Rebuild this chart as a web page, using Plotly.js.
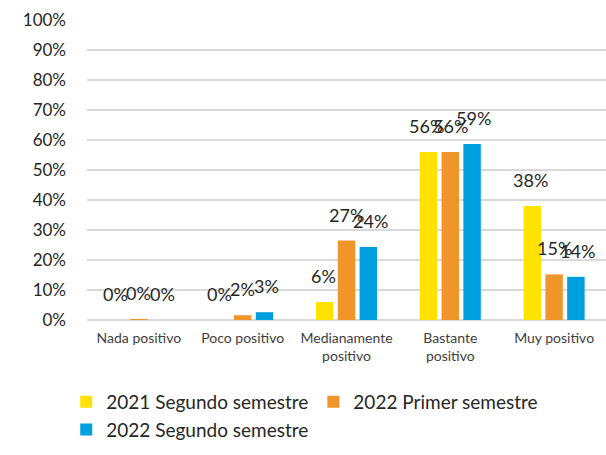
<!DOCTYPE html>
<html>
<head>
<meta charset="utf-8">
<script src="https://cdn.plot.ly/plotly-3.0.1.min.js"></script>
<style>body{margin:0;background:#fff;} #chart{width:606px;height:455px;}</style>
</head>
<body>
<div id="chart"></div>
<script>
// categories on the x axis
let categories = ['Nada positivo', 'Poco positivo', 'Medianamente<br>positivo', 'Bastante<br>positivo', 'Muy positivo'];

// percentages per period
let s2021b = [0, 0, 6, 56, 38];
let s2022a = [0.3, 1.6, 26.5, 56, 15.2];
let s2022b = [0, 2.6, 24.3, 58.7, 14.4];

let seriesNames = ['2021 Segundo semestre', '2022 Primer semestre', '2022 Segundo semestre'];
let seriesColors = ['#FFE200', '#F0952A', '#009FE0'];
let seriesValues = [s2021b, s2022a, s2022b];

// build one bar trace per period
var data = seriesValues.map(function (vals, i) {
    return {
        x: categories,
        y: vals,
        type: 'bar',
        name: seriesNames[i],
        marker: {color: seriesColors[i]},
        hoverinfo: 'none'
    };
});

// value labels floating above each bar
var labels = [];
seriesValues.forEach(function (vals, i) {
    vals.forEach(function (v, j) {
        labels.push({
            x: categories[j],
            y: v,
            xref: 'x',
            yref: 'y',
            text: Math.round(v) + '%',
            showarrow: false,
            xshift: (i - 1) * 23.5,
            yshift: 26,
            font: {family: 'Lato, sans-serif', size: 18, color: '#262626'}
        });
    });
});

var layout = {
    width: 606,
    height: 455,
    margin: {l: 87, r: 0, t: 20, b: 135},
    paper_bgcolor: '#fff',
    plot_bgcolor: '#fff',
    barmode: 'group',
    bargap: 0.37,
    bargroupgap: 0.2,
    font: {family: 'Lato, sans-serif', color: '#404040'},
    xaxis: {
        automargin: false,
        tickfont: {size: 14, color: '#404040'},
        showgrid: false,
        showline: false,
        ticks: '',
        ticklabelstandoff: 8
    },
    yaxis: {
        automargin: false,
        range: [0, 100],
        dtick: 10,
        ticksuffix: '%',
        tickfont: {size: 17, color: '#262626'},
        gridcolor: '#d9d9d9',
        gridwidth: 2,
        zeroline: true,
        zerolinecolor: '#d9d9d9',
        zerolinewidth: 2,
        ticklen: 0,
        ticks: '',
        ticklabelstandoff: 20
    },
    legend: {
        orientation: 'h',
        x: -0.04,
        xanchor: 'left',
        y: -0.21,
        yanchor: 'top',
        font: {size: 19, color: '#262626'},
        itemwidth: 30,
        traceorder: 'normal'
    },
    annotations: labels,
    showlegend: true
};

Plotly.newPlot('chart', data, layout, {displayModeBar: false});
</script>
</body>
</html>
